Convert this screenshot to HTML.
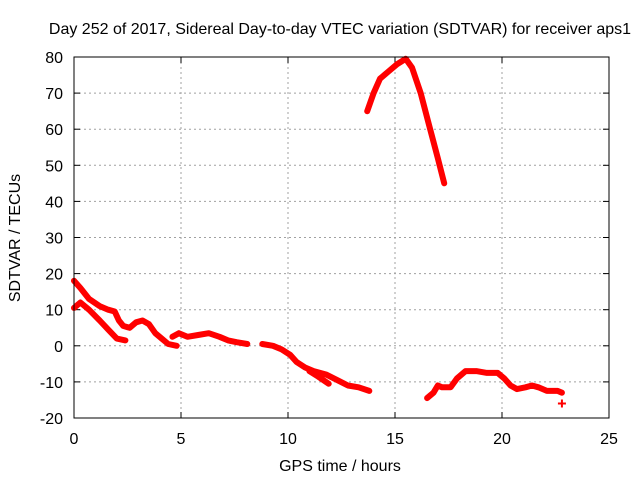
<!DOCTYPE html>
<html><head><meta charset="utf-8"><style>
body{margin:0;background:#fff;}
svg{display:block;font-family:"Liberation Sans",sans-serif;}
</style></head><body>
<svg id="chart" width="640" height="480">
<text x="340" y="34" font-size="16" text-anchor="middle">Day 252 of 2017, Sidereal Day-to-day VTEC variation (SDTVAR) for receiver aps1</text>
<text x="340" y="471" font-size="16" text-anchor="middle">GPS time / hours</text>
<text transform="translate(20,238) rotate(-90)" font-size="16" text-anchor="middle">SDTVAR / TECUs</text>
<g id="grid"></g><g id="ticks"></g><g id="series"></g>
<rect x="74" y="57" width="535" height="361" fill="none" stroke="#000" stroke-width="1"/>
</svg>
<script>
const xTicks=[0,5,10,15,20,25];
const yTicks=[-20,-10,0,10,20,30,40,50,60,70,80];
const segA_h=[0,0.3,0.7,1.2,1.6,1.9,2.1,2.3,2.6,2.9,3.2,3.5,3.8,4.1,4.4,4.8];
const segA_v=[18,16,13,11,10,9.5,7,5.5,5,6.5,7,6,3.5,2,0.5,0];
const segB_h=[0,0.3,0.7,1.2,1.6,2.0,2.4];
const segB_v=[10.5,12,10,7,4.5,2,1.5];
const segC_h=[4.6,4.9,5.3,5.8,6.3,6.8,7.2,7.6,8.1];
const segC_v=[2.5,3.5,2.5,3,3.5,2.5,1.5,1,0.5];
const segD_h=[8.8,9.3,9.7,10.1,10.4,10.8,11.2,11.8,12.3,12.8,13.3,13.8];
const segD_v=[0.5,0,-1,-2.5,-4.5,-6,-7,-8,-9.5,-11,-11.5,-12.5];
const segD2_h=[11.0,11.4,11.9];
const segD2_v=[-7,-8.5,-10.5];
const segE_h=[13.7,14.0,14.3,14.7,15.1,15.5,15.8,16.2,16.6,17.0,17.3];
const segE_v=[65,70,74,76,78,79.5,77,70,61,52,45];
const segF_h=[16.5,16.8,17.0,17.2,17.6,17.9,18.3,18.8,19.3,19.8,20.1,20.4,20.7,21.1,21.4,21.7,22.1,22.6,22.8];
const segF_v=[-14.5,-13,-11,-11.5,-11.5,-9,-7,-7,-7.5,-7.5,-9,-11,-12,-11.5,-11,-11.5,-12.5,-12.5,-13];
const segG_h=[22.8];
const segG_v=[-16];
const NS="http://www.w3.org/2000/svg";
const X0=74,X1=609,Y0=418,Y1=57;
function xs(h){return X0+(h-0)/(25-0)*(X1-X0);}
function ys(v){return Y0-(v+20)/(100)*(Y0-Y1);}
const grid=document.getElementById('grid'),ticks=document.getElementById('ticks'),ser=document.getElementById('series');
function mk(tag,attrs,parent){const e=document.createElementNS(NS,tag);for(const k in attrs)e.setAttribute(k,attrs[k]);parent.appendChild(e);return e;}
xTicks.forEach(t=>{
  const x=xs(t);
  if(t>0&&t<25){const g=mk('line',{x1:x,x2:x,y1:Y1,y2:Y0,stroke:'#a0a0a0','stroke-dasharray':'2,3'},grid);
  
  }
  mk('line',{x1:x,x2:x,y1:Y0,y2:Y0-6,stroke:'#000'},ticks);
  mk('line',{x1:x,x2:x,y1:Y1,y2:Y1+6,stroke:'#000'},ticks);
  const l=mk('text',{x:x,y:Y0+26,'font-size':16,'text-anchor':'middle'},ticks);l.textContent=t;
  
  
});
yTicks.forEach(t=>{
  const y=ys(t);
  if(t>-20&&t<80){const g=mk('line',{x1:X0,x2:X1,y1:y,y2:y,stroke:'#a0a0a0','stroke-dasharray':'2,3'},grid);
  
  }
  mk('line',{x1:X0,x2:X0+6,y1:y,y2:y,stroke:'#000'},ticks);
  mk('line',{x1:X1,x2:X1-6,y1:y,y2:y,stroke:'#000'},ticks);
  const l=mk('text',{x:X0-11,y:y+6,'font-size':16,'text-anchor':'end'},ticks);l.textContent=t;
  
  
});
const segs=[[segA_h,segA_v],[segB_h,segB_v],[segC_h,segC_v],[segD_h,segD_v],[segD2_h,segD2_v],[segE_h,segE_v],[segF_h,segF_v]];
segs.forEach((s,i)=>{
  const pts=s[0].map((h,j)=>xs(h).toFixed(1)+','+ys(s[1][j]).toFixed(1)).join(' ');
  const p=mk('polyline',{points:pts,fill:'none',stroke:'#ff0000','stroke-width':6,'stroke-linejoin':'round','stroke-linecap':'round'},ser);
  
  
});
segG_h.forEach((h,j)=>{
  const x=xs(h),y=ys(segG_v[j]);
  const p=mk('path',{d:`M${x-4},${y}H${x+4}M${x},${y-4}V${y+4}`,stroke:'#ff0000','stroke-width':2},ser);
  
  
});
</script>
</body></html>
